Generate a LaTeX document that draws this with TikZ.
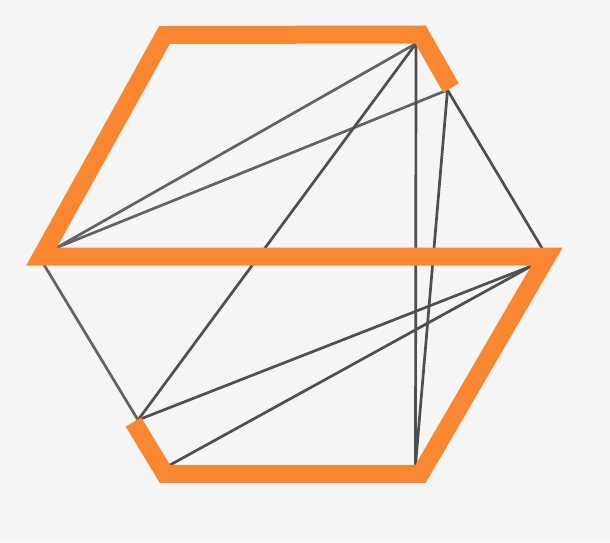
\documentclass[tikz,border=0pt]{standalone}
\usetikzlibrary{calc}
\definecolor{bgc}{HTML}{F5F5F5}
\definecolor{routec}{HTML}{F98731}
\definecolor{edgec}{HTML}{4F4F4F}
\definecolor{edgeb}{HTML}{636363}
\begin{document}
\begin{tikzpicture}[x=1pt,y=-1pt,
  edge/.style={draw=edgec,line width=2.7pt},
  edgelight/.style={draw=edgeb,line width=2.7pt},
  route/.style={draw=routec,line width=18pt,line join=miter,line cap=butt}]
\fill[bgc] (0,0) rectangle (610,542);
\useasboundingbox (0,0) rectangle (610,542);
% route (centre line) vertices
\coordinate (Co) at (451,88);
\coordinate (Bo) at (420.5,34.5);
\coordinate (Ao) at (164.5,35);
\coordinate (Ho) at (41.5,256.5);
\coordinate (Do) at (547,256.5);
\coordinate (Eo) at (420.5,474);
\coordinate (Fo) at (165,474);
\coordinate (Go) at (133.5,422);
% edge end points
\coordinate (B) at (416,43.5);
\coordinate (C) at (447.5,90);
\coordinate (Hi) at (57,247.5);
\coordinate (Hc) at (39,256.5);
\coordinate (Di) at (531.5,266);
\coordinate (Dc) at (547,256.5);
\coordinate (E) at (415.5,465);
\coordinate (F) at (170,465);
\coordinate (G) at (138,420);
% thin edges
\draw[edgelight] (B) -- (Hi);
\draw[edgelight] (C) -- (Hi);
\draw[edge] (B) -- (G);
\draw[edge] (B) -- (E);
\draw[edge] (C) -- (E);
\draw[edge] (C) -- (Dc);
\draw[edge] (Di) -- (G);
\draw[edge] (Di) -- (F);
\draw[edgelight] (Hc) -- (G);
% highlighted route
\draw[route] (Co) -- (Bo) -- (Ao) -- (Ho) -- (Do) -- (Eo) -- (Fo) -- (Go);
\end{tikzpicture}
\end{document}
